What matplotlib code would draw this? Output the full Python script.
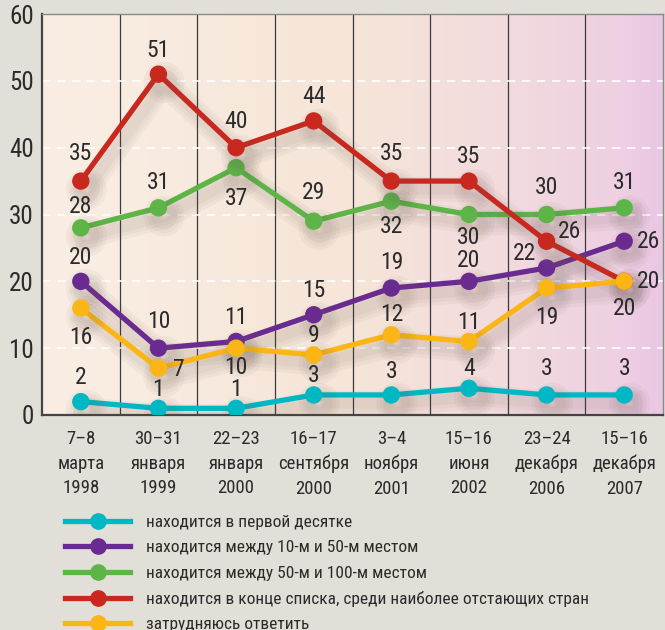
import numpy as np
import matplotlib
matplotlib.use("Agg")
import matplotlib.pyplot as plt
import matplotlib.patheffects as pe
from matplotlib import font_manager as fm
from matplotlib.colors import LinearSegmentedColormap

# ---- data ----
dates = ["7–8\nмарта\n1998", "30–31\nянваря\n1999", "22–23\nянваря\n2000",
         "16–17\nсентября\n2000", "3–4\nноября\n2001", "15–16\nиюня\n2002",
         "23–24\nдекабря\n2006", "15–16\nдекабря\n2007"]
top10 = [2, 1, 1, 3, 3, 4, 3, 3]
top10_50 = [20, 10, 11, 15, 19, 20, 22, 26]
top50_100 = [28, 31, 37, 29, 32, 30, 30, 31]
bottom = [35, 51, 40, 44, 35, 35, 26, 20]
unsure = [16, 7, 10, 9, 12, 11, 19, 20]
labels = ["находится в первой десятке",
          "находится между 10-м и 50-м местом",
          "находится между 50-м и 100-м местом",
          "находится в конце списка, среди наиболее отстающих стран",
          "затрудняюсь ответить"]
yticks = [0, 10, 20, 30, 40, 50, 60]

# ---- font ----
names = {f.name for f in fm.fontManager.ttflist}
fam = None
for cand in ["Roboto Condensed", "Liberation Sans Narrow", "Open Sans Condensed"]:
    if cand in names:
        fam = cand
        break
if fam is None:
    fam = "DejaVu Sans"
    plt.rcParams['font.stretch'] = 'condensed'
plt.rcParams['font.family'] = [fam, 'DejaVu Sans']
TXT = "#2b2b2b"

fig = plt.figure(figsize=(6.65, 6.3), dpi=100)
fig.patch.set_facecolor("#e2dfd8")
ax = fig.add_axes([42/665, 1-415/630, 621/665, (415-14)/630])

# background gradient
cmap = LinearSegmentedColormap.from_list("bg", [
    (0.0, (250/255, 238/255, 228/255)),
    (0.5, (246/255, 229/255, 216/255)),
    (0.75, (242/255, 219/255, 222/255)),
    (0.93, (238/255, 208/255, 226/255)),
    (1.0, (234/255, 198/255, 228/255))])
grad = np.linspace(0, 1, 256).reshape(1, -1)
ax.imshow(grad, extent=(-0.5, 7.5, 0, 60), aspect="auto", cmap=cmap, zorder=0)

x = np.arange(len(dates))
ax.set_xlim(-0.5, 7.5)
ax.set_ylim(0, 60)

# column separators
for xv in x[:-1] + 0.5:
    ax.axvline(xv, color="#3a3a3a", lw=0.9, zorder=1)
# dashed grid
for yv in yticks[1:-1]:
    ax.axhline(yv, color="white", lw=1.2, ls=(0, (5, 4)), zorder=1)

series = [
    (top10, "#00b8c4"),
    (top10_50, "#6a2b91"),
    (top50_100, "#5db548"),
    (bottom, "#c9281f"),
    (unsure, "#fbb616"),
]
shadow = [pe.SimpleLineShadow(offset=(4, -6), shadow_color="#6b5a50", alpha=0.05, linewidth=w)
          for w in (18, 13, 8)]
handles = []
for vals, col in series:
    ln, = ax.plot(x, vals, color=col, lw=3.8, marker="o", ms=11.5, zorder=3,
                  path_effects=shadow + [pe.Normal()])
    handles.append(ln)

# data labels: offsets in pixels (dx right, dy down)
def lab(vals, offs):
    for i, v in enumerate(vals):
        dx, dy = offs[i]
        ax.annotate(str(v), (x[i], v), xytext=(dx * 0.72, -dy * 0.72),
                    textcoords="offset points",
                    ha="center", va="center", fontsize=17, color=TXT, zorder=5)

lab(top10, [(0, -24), (0, -19), (0, -19), (0, -19), (0, -23), (0, -20), (0, -26), (0, -26)])
lab(top10_50, [(0, -24), (0, -27), (0, -24), (0, -24), (0, -26), (0, -21), (-22, -14), (24, 0)])
lab(top50_100, [(0, -21), (0, -25), (0, 31), (0, -29), (0, 25), (0, 23), (0, -27), (0, -25)])
lab(bottom, [(0, -28), (0, -24), (0, -26), (0, -24), (0, -28), (0, -25), (23, -10), (24, 0)])
lab(unsure, [(0, 29), (20, 1), (0, 19), (0, -19), (0, -20), (0, -19), (0, 29), (0, 27)])

ax.set_yticks(yticks)
ax.set_yticklabels([str(t) for t in yticks], fontsize=18, color=TXT)
ax.set_xticks(x)
ax.set_xticklabels(dates, fontsize=13.5, color=TXT, linespacing=1.45)
ax.tick_params(axis="both", length=0)
ax.tick_params(axis="y", pad=6)
ax.tick_params(axis="x", pad=11)
for s in ["left", "bottom"]:
    ax.spines[s].set_color("#444444")
    ax.spines[s].set_linewidth(1.6)
for s in ["top", "right"]:
    ax.spines[s].set_color("#8a8a8a")
    ax.spines[s].set_linewidth(1.0)

leg = fig.legend(handles, labels, loc="upper left", bbox_to_anchor=(65/665, 1-515/630),
                 frameon=False, fontsize=12.5, handlelength=3.75, handletextpad=0.9,
                 labelspacing=0.58, borderaxespad=0, borderpad=0)
for t in leg.get_texts():
    t.set_color(TXT)
for h in leg.legend_handles:
    h.set_path_effects([])
    h.set_markersize(11)

fig.savefig("out.png", dpi=100, facecolor=fig.get_facecolor())
